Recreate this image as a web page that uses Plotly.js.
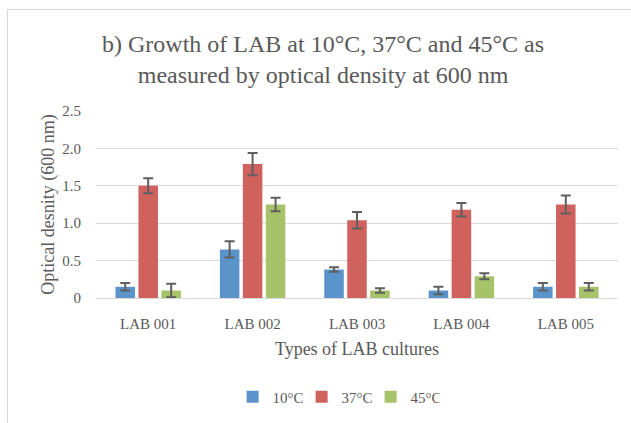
<!DOCTYPE html>
<html>
<head>
<meta charset="utf-8">
<script src="https://cdn.plot.ly/plotly-3.0.1.min.js"></script>
<style>
html,body{margin:0;padding:0;background:#fff;}
#wrap{position:relative;width:631px;height:423px;overflow:hidden;}
#frame{position:absolute;left:7px;top:9px;width:640px;height:430px;border:1px solid #d9d9d9;box-sizing:border-box;pointer-events:none;}
#chart{position:absolute;left:0;top:0;width:631px;height:423px;}
</style>
</head>
<body>
<div id="wrap">
<div id="chart"></div>
<div id="frame"></div>
</div>
<script>
const categories = ["LAB 001", "LAB 002", "LAB 003", "LAB 004", "LAB 005"];
const seriesNames = ["10°C", "37°C", "45°C"];
const values10 = [0.15, 0.65, 0.38, 0.10, 0.15];
const errors10 = [0.05, 0.11, 0.03, 0.05, 0.05];
const values37 = [1.50, 1.79, 1.04, 1.18, 1.25];
const errors37 = [0.10, 0.15, 0.11, 0.09, 0.12];
const values45 = [0.10, 1.25, 0.10, 0.29, 0.15];
const errors45 = [0.09, 0.09, 0.03, 0.04, 0.05];
const yTickVals = [0, 0.5, 1.0, 1.5, 2.0, 2.5];
const yTickText = ["0", "0.5", "1.0", "1.5", "2.0", "2.5"];

const colors = ["#5B93CB", "#CF625C", "#A6C36A"];
const allVals = [values10, values37, values45];
const allErrs = [errors10, errors37, errors45];

const traces = seriesNames.map((name, i) => ({
  type: "bar",
  name: name,
  x: categories,
  y: allVals[i],
  marker: {color: colors[i]},
  error_y: {type: "data", array: allErrs[i], visible: true, color: "#5f5f5f", thickness: 2, width: 5},
  hoverinfo: "none"
}));

const serif = "Liberation Serif, Times New Roman, serif";
const layout = {
  width: 631, height: 423,
  margin: {l: 96, r: 13, t: 111, b: 125, autoexpand: false},
  paper_bgcolor: "#ffffff",
  plot_bgcolor: "#ffffff",
  font: {family: serif, color: "#595959", size: 15},
  title: {
    text: "b) Growth of LAB at 10°C, 37°C and 45°C as<br>measured by optical density at 600 nm",
    font: {family: serif, size: 24, color: "#595959"},
    x: 0.512, xanchor: "center", y: 0.878, yanchor: "top"
  },
  barmode: "group",
  bargap: 0.34,
  bargroupgap: 0.15,
  xaxis: {
    type: "category",
    showgrid: false,
    showline: true, linecolor: "#d9d9d9", linewidth: 1,
    ticks: "", ticklabelstandoff: 12,
    tickfont: {family: serif, size: 15, color: "#595959"},
    title: {text: "Types of LAB cultures", font: {family: serif, size: 18, color: "#595959"}, standoff: 11}
  },
  yaxis: {
    range: [0, 2.5],
    tickvals: yTickVals, ticktext: yTickText,
    showgrid: true, gridcolor: "#d9d9d9", gridwidth: 1,
    zeroline: false, showline: false, ticks: "", ticklabelstandoff: 14,
    tickfont: {family: serif, size: 15, color: "#595959"},
    title: {text: "Optical desnity (600 nm)", font: {family: serif, size: 18, color: "#595959"}, standoff: 2}
  },
  legend: {
    orientation: "h", x: 0.46, xanchor: "center", y: -0.53, yanchor: "middle",
    font: {family: serif, size: 15, color: "#595959"},
    entrywidth: 24, itemwidth: 30, traceorder: "normal"
  },
  showlegend: true
};

Plotly.newPlot("chart", traces, layout, {displayModeBar: false, staticPlot: true});
</script>
</body>
</html>
